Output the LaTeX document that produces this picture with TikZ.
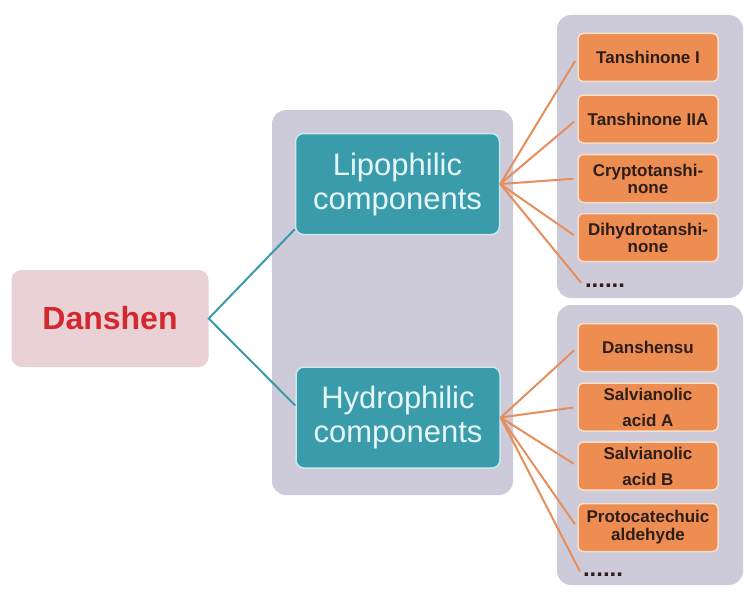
\documentclass[tikz,border=0pt]{standalone}
\usepackage{fontspec}
\setmainfont{Liberation Sans}
\usetikzlibrary{positioning}
\definecolor{panelgrey}{RGB}{205,203,218}
\definecolor{pinkbox}{RGB}{233,209,213}
\definecolor{redtext}{RGB}{210,40,46}
\definecolor{tealbox}{RGB}{58,156,171}
\definecolor{tealedge}{RGB}{205,232,236}
\definecolor{tealtext}{RGB}{228,246,248}
\definecolor{tealline}{RGB}{60,154,168}
\definecolor{orangebox}{RGB}{238,141,82}
\definecolor{orangeedge}{RGB}{250,222,198}
\definecolor{orangeline}{RGB}{230,142,92}
\definecolor{leaftext}{RGB}{45,30,25}
\newcommand{\compound}[4]{\node[leaf, font=\bfseries\fontsize{17}{#4}\selectfont] (#1) at (648,-#3) {#2};}

\begin{document}
\begin{tikzpicture}[x=1pt,y=1pt,
	panel/.style={fill=panelgrey, rounded corners=14pt, inner sep=0pt},
	group/.style={fill=tealbox, draw=tealedge, line width=1.5pt, rounded corners=8pt, text=tealtext, minimum width=204pt, minimum height=101pt, align=center, font=\fontsize{31}{34}\selectfont},
	leaf/.style={fill=orangebox, draw=orangeedge, line width=1.5pt, rounded corners=5pt, text=leaftext, minimum width=140pt, minimum height=48pt, inner sep=1pt, align=center},
	more/.style={text=leaftext, font=\bfseries\fontsize{24}{24}\selectfont, inner sep=1pt},
	twig/.style={draw=orangeline, line width=2pt, shorten >=4pt},
	stem/.style={draw=tealline, line width=2pt}]
	\useasboundingbox (0,0) rectangle (747,-594);

	\node[panel, minimum width=241pt, minimum height=385pt] (mid_panel) at (392.5,-302.5) {};
	\node[panel, minimum width=186pt, minimum height=283pt] (lipo_panel) at (650,-156.5) {};
	\node[panel, minimum width=186pt, minimum height=280pt] (hydro_panel) at (650,-445) {};

	\node[fill=pinkbox, rounded corners=10pt, minimum width=197pt, minimum height=97pt, text=redtext, font=\bfseries\fontsize{32}{34}\selectfont] (danshen) at (110,-318.5) {Danshen};

	\node[group] (lipo) at (397.5,-184) {Lipophilic\\components};
	\node[group] (hydro) at (398,-417.5) {Hydrophilic\\components};

	\compound{tan_one}{Tanshinone I}{57.5}{18}
	\compound{tan_two}{Tanshinone IIA}{119}{18}
	\compound{crypto}{Cryptotanshi-\\none}{178.5}{17}
	\compound{dihydro}{Dihydrotanshi-\\none}{237.5}{17}
	\node[more] (lipo_more) at (605,-286) {......};

	\compound{danshensu}{Danshensu}{347.5}{18}
	\compound{sal_a}{Salvianolic\\acid A}{407}{26}
	\compound{sal_b}{Salvianolic\\acid B}{466}{26}
	\compound{proto}{Protocatechuic\\aldehyde}{527.5}{18}
	\node[more] (hydro_more) at (603,-575) {......};

	\draw[stem] ([yshift=6pt]lipo.south west) -- (danshen.east) -- ([yshift=12pt]hydro.west);

	\foreach \leafname in {tan_one,tan_two,crypto,dihydro}
		\draw[twig] (lipo.east) -- (\leafname.west);
	\draw[twig] (lipo.east) -- (lipo_more.west);
	\foreach \leafname in {danshensu,sal_a,sal_b,proto}
		\draw[twig] (hydro.east) -- (\leafname.west);
	\draw[twig] (hydro.east) -- (hydro_more.west);
\end{tikzpicture}
\end{document}
